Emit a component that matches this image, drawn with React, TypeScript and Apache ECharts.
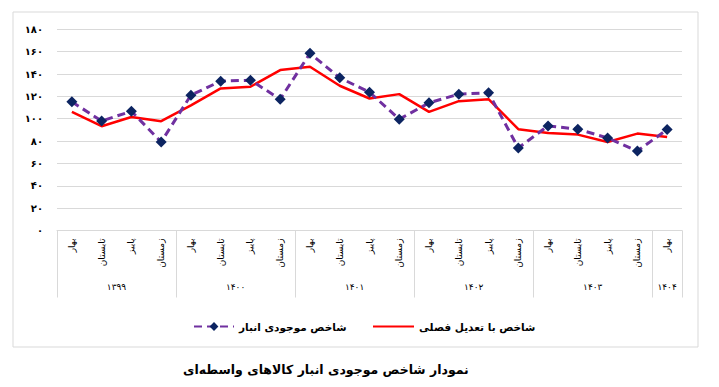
import React, { useEffect, useRef } from "react";
import * as echarts from "echarts";

const seasonNames = ["بهار", "تابستان", "پاییز", "زمستان"];
const years = ["۱۳۹۹", "۱۴۰۰", "۱۴۰۱", "۱۴۰۲", "۱۴۰۳", "۱۴۰۴"];
const seasonsPerYear = [4, 4, 4, 4, 4, 1];

const inventoryIndex = [
  115.1, 98.0, 106.7, 79.2,
  121.1, 133.6, 134.5, 117.5,
  158.5, 136.6, 123.7, 99.6,
  114.2, 122.0, 123.2, 73.8,
  93.6, 90.6, 82.8, 71.1,
  90.3,
];
const seasonallyAdjusted = [
  106.1, 93.3, 101.6, 97.8,
  112.0, 127.1, 128.6, 143.5,
  146.5, 129.5, 118.1, 122.0,
  106.1, 115.7, 117.5, 90.6,
  87.3, 85.8, 79.2, 86.7,
  83.7,
];

const seriesNames = ["شاخص موجودی انبار", "شاخص با تعدیل فصلی"];
const titleText = "نمودار شاخص موجودی انبار کالاهای واسطه‌ای";

const toFa = (s: string | number) =>
  String(s).replace(/[0-9]/g, (d) => "۰۱۲۳۴۵۶۷۸۹"[Number(d)]);

const FONT = "DejaVu Sans";

export default function App() {
  const ref = useRef<HTMLDivElement>(null);
  useEffect(() => {
    if (!ref.current) return;
    const chart = echarts.init(ref.current, undefined, { renderer: "svg" });

    const seasonCats: string[] = [];
    seasonsPerYear.forEach((n) => {
      for (let i = 0; i < n; i++) seasonCats.push(seasonNames[i]);
    });
    const total = seasonCats.length;
    // half-season positions for the year axis (boundaryGap false)
    const yearCats: string[] = new Array(total * 2 + 1).fill("");
    const tickIdx = new Set<number>([0]);
    let start = 0;
    seasonsPerYear.forEach((n, g) => {
      yearCats[start * 2 + n] = years[g];
      start += n;
      tickIdx.add(start * 2);
    });

    const legendText = { fontFamily: FONT, fontSize: 10.5, fontWeight: "bold", color: "#000" };

    chart.setOption({
      animation: false,
      textStyle: { fontFamily: FONT },
      title: {
        text: titleText,
        left: 178,
        top: 358,
        textStyle: { fontFamily: FONT, fontSize: 12.5, fontWeight: "bold", color: "#000" },
      },
      graphic: [
        {
          type: "rect",
          shape: { x: 13, y: 12, width: 685, height: 335 },
          style: { fill: "none", stroke: "#d9d9d9", lineWidth: 1 },
          silent: true,
        },
      ],
      legend: [
        {
          data: [seriesNames[0]],
          left: 188,
          top: 316,
          itemWidth: 40,
          itemHeight: 11,
          textStyle: legendText,
        },
        {
          data: [{ name: seriesNames[1], itemStyle: { opacity: 0, borderWidth: 0 } }],
          left: 367,
          top: 316,
          itemWidth: 41,
          itemHeight: 11,
          textStyle: legendText,
        },
      ],
      grid: { left: 57, right: 37, top: 29.3, bottom: 156.5 },
      xAxis: [
        {
          type: "category",
          data: seasonCats,
          boundaryGap: true,
          axisLine: { show: true, lineStyle: { color: "#d9d9d9", width: 1 } },
          axisTick: { show: false },
          axisLabel: { interval: 0, rotate: 90, margin: 8, fontSize: 9, color: "#000", fontFamily: FONT },
        },
        {
          type: "category",
          data: yearCats,
          boundaryGap: false,
          position: "bottom",
          axisLine: { show: false },
          axisTick: {
            show: true,
            length: 67,
            interval: (i: number) => tickIdx.has(i),
            lineStyle: { color: "#d9d9d9", width: 1 },
          },
          axisLabel: { interval: 0, margin: 52, fontSize: 9, color: "#000", fontFamily: FONT },
        },
      ],
      yAxis: {
        type: "value",
        min: 0,
        max: 180,
        interval: 20,
        axisLine: { show: false },
        axisTick: { show: false },
        splitLine: { lineStyle: { color: "#d9d9d9", width: 1 } },
        axisLabel: {
          margin: 14,
          fontSize: 10,
          fontWeight: "bold",
          color: "#000",
          fontFamily: FONT,
          formatter: (v: number) => toFa(v),
        },
      },
      series: [
        {
          name: seriesNames[0],
          type: "line",
          data: inventoryIndex,
          symbol: "diamond",
          symbolSize: 11,
          itemStyle: { color: "#0c2461" },
          lineStyle: { color: "#7030a0", width: 3, type: [8, 5] },
          z: 3,
        },
        {
          name: seriesNames[1],
          type: "line",
          data: seasonallyAdjusted,
          symbol: "none",
          itemStyle: { color: "#ff0000" },
          lineStyle: { color: "#ff0000", width: 2.5 },
          z: 2,
        },
      ],
    });
    return () => chart.dispose();
  }, []);

  return (
    <div
      ref={ref}
      style={{ position: "fixed", left: 0, top: 0, width: 719, height: 387, background: "#fff" }}
    />
  );
}
